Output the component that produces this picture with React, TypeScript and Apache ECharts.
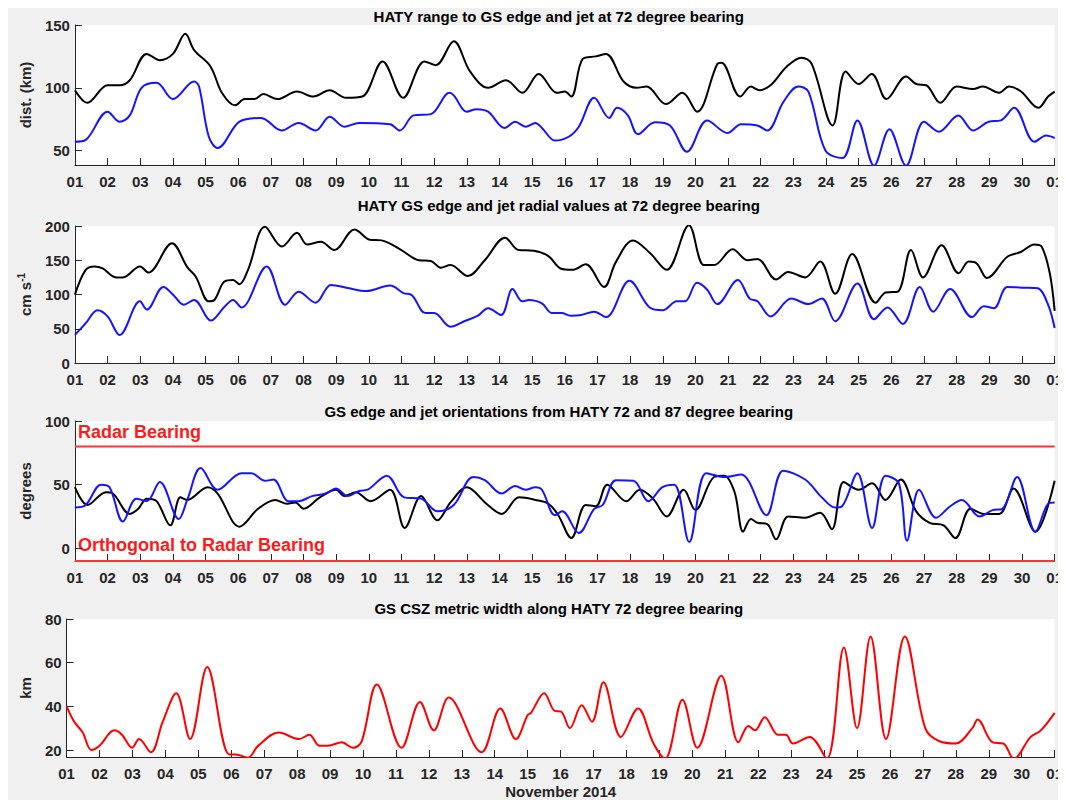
import React, { useEffect, useRef } from "react";
import * as echarts from "echarts";

const DAY_LABELS = ["01","02","03","04","05","06","07","08","09","10","11","12","13","14","15","16","17","18","19","20","21","22","23","24","25","26","27","28","29","30","01"];

const TITLES = [
  "HATY range to GS edge and jet at 72 degree bearing",
  "HATY GS edge and jet radial values at 72 degree bearing",
  "GS edge and jet orientations from HATY 72 and 87 degree bearing",
  "GS CSZ metric width along HATY 72 degree bearing",
];

// Panel 1: range (km) — [day offset from Nov 01, value]
const rangeEdge = [[0,98],[0.38,88],[1,102],[1.37,102],[1.68,106],[2.2,127],[2.6,122],[3,127],[3.38,143],[3.65,130],[4.15,117],[4.5,96],[4.9,86],[5.2,91],[5.5,91],[5.77,95],[6.2,91],[6.8,97],[7.3,93],[7.8,98],[8.3,92],[8.8,93],[9.42,121],[10.05,92],[10.7,121],[11.05,118],[11.6,137],[12.1,113],[12.65,100],[13.2,106],[13.7,96],[14.2,111],[14.76,96],[15,97],[15.2,93],[15.55,123],[15.95,125],[16.26,127],[16.8,105],[17.2,100],[17.5,101],[18.1,87],[18.6,96],[19.05,81],[19.67,119],[19.8,120],[20.37,93],[20.7,101],[20.96,98],[21.3,102],[21.8,117],[22.25,124],[22.56,119],[23.2,70],[23.6,113],[24,103],[24.4,111],[24.85,91],[25.45,109],[25.76,103],[26.07,102],[26.5,88],[27,101],[27.5,99],[27.8,101],[28.3,96],[28.6,101],[28.97,97],[29.5,84],[29.8,93],[30,97]];
const rangeJet = [[0,57],[0.33,58.5],[1,81],[1.37,73],[1.68,78],[2.04,100],[2.5,104],[3,91],[3.65,105],[3.8,101],[4.1,61],[4.37,52],[5.04,73],[5.7,76],[6.33,66],[6.85,72],[7.37,66],[7.8,77],[8.25,69],[8.7,72],[9.65,71],[9.95,66],[10.37,78],[10.9,79],[11.47,96],[11.6,94],[12,81],[12.3,83],[12.65,81],[13.16,68],[13.48,73],[13.8,69],[14.1,72],[14.3,68],[14.7,58],[15.12,61],[15.43,69],[15.9,92],[16.36,76],[16.6,84],[16.93,78],[17.24,63],[17.76,72.5],[18.22,70],[18.74,49],[19.36,74],[19.98,64],[20.4,71],[20.9,70],[21.2,66],[21.7,89],[22.15,101],[22.46,97],[22.98,50],[23.5,44],[23.96,74],[24.47,38],[24.94,67],[25.45,38],[26,73],[26.45,65],[27.05,78],[27.5,66],[27.98,73],[28.35,74],[28.76,84],[29.38,57],[29.74,62],[30,60]];

// Panel 2: radial velocity (cm/s)
const radialEdge = [[0,100],[0.33,136],[0.6,141],[0.85,138],[1.26,125],[1.47,125],[1.99,141],[2.25,132],[2.97,175],[3.44,140],[3.7,126],[4.1,90],[4.27,92],[4.58,119],[4.84,121],[5.04,115],[5.3,136],[5.82,199],[6.34,170],[6.8,190],[7.11,173],[7.53,177],[7.94,165],[8.56,195],[9.03,180],[9.39,179],[9.96,166],[10.53,150],[10.9,149],[11.2,139],[11.5,143],[12.03,127],[12.55,150],[13.17,183],[13.58,165],[14.05,164],[14.5,156],[14.87,138],[15.23,136],[15.64,144],[16.2,111],[16.57,148],[17.09,179],[17.6,161],[18.12,136],[18.8,201],[19.26,143],[19.57,143],[20.14,166],[20.6,150],[20.9,152],[21.47,122],[21.84,133],[22.36,125],[22.82,148],[23.28,101],[23.8,159],[24.52,88],[24.83,103],[25.19,104],[25.6,165],[25.97,125],[26.54,172],[27.06,131],[27.37,148],[27.62,145],[27.93,124],[28.55,155],[28.96,162],[29.38,173],[29.6,170],[29.85,131],[30,76]];
const radialJet = [[0,41],[0.33,58],[0.69,77],[1,68],[1.37,41],[1.99,90],[2.2,78],[2.71,111],[3.02,99],[3.33,85],[3.65,92],[4.16,62],[4.58,82],[4.84,92],[5.1,81],[5.87,141],[6.44,85],[6.85,104],[7.37,88],[7.84,114],[8.4,109],[8.92,105],[9.65,113],[10.06,102],[10.32,99],[10.73,73],[11,73],[11.5,53],[11.92,61],[12.34,69],[12.65,80],[13.05,70],[13.4,108],[13.7,90],[13.9,92],[14.3,87],[14.6,73],[14.9,73],[15.18,69],[15.5,70],[15.9,75],[16.26,67],[16.98,120],[17.6,81],[18,77],[18.43,90],[18.68,90],[19.05,117],[19.36,107],[19.67,86],[20.3,121],[20.66,94],[20.9,90],[21.3,68],[21.94,94],[22.46,86],[22.87,94],[23.28,61],[23.96,116],[24.47,64],[24.88,81],[25.35,57],[25.87,111],[26.28,75],[26.8,108],[27.47,67],[27.83,83],[28.14,80],[28.55,111],[29.07,110],[29.48,109],[29.8,85],[30,51]];

// Panel 3: orientation (degrees)
const orientEdge = [[0,48],[0.38,34],[0.95,44],[1.16,43],[1.68,27],[1.94,31],[2.2,39],[2.5,37],[2.92,18],[3.23,40],[3.44,38],[4.06,48],[4.37,43],[5.04,17],[5.61,31],[6.13,38],[6.5,35],[6.75,36],[7,31],[7.5,40],[8,46],[8.25,41],[8.6,44],[9.05,37],[9.65,46],[10.1,16],[10.6,41],[11.1,22],[11.5,36],[12,48],[12.6,35],[13.07,27],[13.6,40],[14.1,38],[14.5,35],[14.8,26],[15.2,8],[15.64,34],[15.95,33],[16.3,50],[16.88,37],[17.3,46],[17.7,39],[18.12,25],[18.64,46],[19,30],[19.57,56],[19.88,57],[20.2,44],[20.46,13],[20.7,23],[20.9,20],[21.2,19],[21.47,7],[21.84,25],[22.36,24],[22.82,28],[23.18,15],[23.54,52],[24,46],[24.41,51],[24.82,38],[25.29,54],[25.76,29],[26.17,20],[26.6,18],[26.96,8],[27.42,31],[27.83,27],[28.3,27],[28.74,47],[29.41,13],[30,53]];
const orientJet = [[0,32],[0.33,34],[0.8,50],[1.06,48],[1.47,21],[1.88,39],[2.2,37],[2.6,52],[3.18,23],[3.44,38],[3.85,63],[4.37,46],[5.1,59],[5.4,59],[5.82,53],[6.08,54],[6.54,37],[6.85,37],[7.26,41],[7.68,43],[7.99,47],[8.35,41],[8.7,45],[8.96,46],[9.55,57],[10.08,40],[10.6,39],[11.1,29],[11.6,34],[12.2,56],[12.55,53.5],[13.07,43],[13.48,49],[13.8,46],[14.1,48],[14.3,46],[14.7,26],[14.92,29],[15.43,12],[15.9,31],[16.16,34],[16.57,53.5],[17.1,53],[17.56,37],[17.99,48],[18.35,50],[18.81,5],[19.33,59],[19.9,56],[20.4,58],[21.17,26],[21.69,61],[22.36,54],[22.87,40],[23.28,32],[23.49,33],[23.96,59],[24.41,16],[24.82,57],[25.23,51],[25.48,6],[25.85,46],[26.37,24],[26.8,33],[27.16,38],[27.7,25],[28.1,30],[28.4,31],[28.85,56],[29.41,13],[29.8,35],[30,36]];
const RADAR_BEARING = 80;
const ORTHOGONAL = -10;

// Panel 4: CSZ width (km)
const cszWidth = [[0,40],[0.23,33],[0.49,28],[0.75,20],[1,22],[1.45,29],[1.68,27],[1.99,21],[2.2,25],[2.56,19],[2.92,33],[3.33,46],[3.75,25],[4.27,58],[4.94,18],[5.14,18],[5.5,16.5],[5.82,22],[6.44,28],[7.06,25],[7.37,27],[7.68,22],[7.94,22],[8.35,23.5],[8.7,21],[8.96,24],[9.42,50],[10.17,21],[10.73,42],[11.15,29],[11.6,44],[12.6,19],[13.17,39],[13.64,25],[14,36],[14.1,37],[14.5,46],[14.81,38],[15.02,37.5],[15.28,30],[15.64,40.5],[15.95,33],[16.3,51],[16.83,26],[17.35,39],[17.82,23],[18.17,16],[18.7,43],[19.15,21],[19.88,54],[20.4,23.5],[20.7,31],[20.9,29],[21.2,35],[21.6,27],[21.84,27],[22.05,23],[22.56,26],[23.08,16],[23.6,67],[24,30],[24.41,72],[24.88,25],[25.45,72],[26.07,30],[26.5,24],[27,23],[27.5,30],[27.66,34],[28.12,23.5],[28.44,23],[28.76,16],[29.27,26],[29.58,29],[30,37]];

const Y_TICKS = [[50, 100, 150], [0, 50, 100, 150, 200], [0, 50, 100], [20, 40, 60, 80]];
const Y_RANGES = [[38.5, 150], [0, 200], [-10, 100], [16.8, 80]];

const FONT = "'Liberation Sans', Arial, Helvetica, sans-serif";
const AXIS_COLOR = "#262626";

export default function App() {
  const ref = useRef<HTMLDivElement>(null);
  useEffect(() => {
    document.documentElement.style.overflow = "hidden";
    document.body.style.overflow = "hidden";
    const chart = echarts.init(ref.current!, null, { renderer: "svg" });
    const gridLeft = 52;
    const gridRight = 8.5;
    const gridDefs = [
      { top: 17, height: 140 },
      { top: 218, height: 137 },
      { top: 413, height: 140 },
      { top: 611, height: 139 },
    ];
    const titleTops = [0, 189, 395, 592];
    const nameGaps = [36, 35, 36, 29];
    const yNames = ["dist. (km)", "cm s{sup|-1}", "degrees", "km"];
    const centerX = gridLeft + (1058 - gridLeft - gridRight) / 2;

    const grid = gridDefs.map((g) => ({
      left: gridLeft,
      right: gridRight,
      top: g.top,
      height: g.height,
      show: true,
      backgroundColor: "#ffffff",
      borderWidth: 0,
    }));

    const xAxis = gridDefs.map((_, i) => ({
      type: "value",
      gridIndex: i,
      min: 0,
      max: 30,
      interval: 1,
      axisLine: { show: true, onZero: false, lineStyle: { color: AXIS_COLOR, width: 1 } },
      axisTick: { show: true, inside: true, length: 7, lineStyle: { color: AXIS_COLOR } },
      axisLabel: {
        formatter: (v: number) => DAY_LABELS[Math.round(v)],
        color: AXIS_COLOR,
        fontWeight: "bold",
        fontSize: 15,
        fontFamily: FONT,
        margin: 9,
      },
      splitLine: { show: false },
      ...(i === 3
        ? {
            name: "November 2014",
            nameLocation: "middle",
            nameGap: 27,
            nameTextStyle: { color: AXIS_COLOR, fontWeight: "bold", fontSize: 15, fontFamily: FONT },
          }
        : {}),
    }));

    const yAxis = gridDefs.map((_, i) => ({
      type: "value",
      gridIndex: i,
      min: Y_RANGES[i][0],
      max: Y_RANGES[i][1],
      axisLine: { show: true, onZero: false, lineStyle: { color: AXIS_COLOR, width: 1 } },
      axisTick: { show: true, inside: true, length: 7, customValues: Y_TICKS[i], lineStyle: { color: AXIS_COLOR } },
      axisLabel: {
        customValues: Y_TICKS[i],
        color: AXIS_COLOR,
        fontWeight: "bold",
        fontSize: 15,
        fontFamily: FONT,
        margin: 5,
      },
      splitLine: { show: false },
      name: yNames[i],
      nameLocation: "middle",
      nameGap: nameGaps[i],
      nameTextStyle: {
        color: AXIS_COLOR,
        fontWeight: "bold",
        fontSize: 15,
        fontFamily: FONT,
        lineHeight: 18,
        rich: {
          sup: { fontSize: 10, fontWeight: "bold", fontFamily: FONT, color: AXIS_COLOR, verticalAlign: "top", lineHeight: 18 },
        },
      },
    }));

    const line = (data: number[][], idx: number, color: string, z = 2) => ({
      type: "line",
      xAxisIndex: idx,
      yAxisIndex: idx,
      data,
      smooth: 0.35,
      showSymbol: false,
      symbol: "none",
      clip: true,
      z,
      lineStyle: { color, width: 2 },
      itemStyle: { color },
    });

    const flat = (v: number) => [[0, v], [30, v]];

    const option = {
      animation: false,
      backgroundColor: "#f0f0f0",
      title: TITLES.map((t, i) => ({
        text: t,
        left: centerX,
        top: titleTops[i],
        textAlign: "center",
        padding: 0,
        textStyle: { color: "#000", fontWeight: "bold", fontSize: 15, fontFamily: FONT, lineHeight: 17 },
      })),
      grid,
      xAxis,
      yAxis,
      series: [
        line(rangeEdge, 0, "#000000"),
        line(rangeJet, 0, "#1414ff"),
        line(radialEdge, 1, "#000000"),
        line(radialJet, 1, "#1414ff"),
        line(orientEdge, 2, "#000000"),
        line(orientJet, 2, "#1414ff"),
        { ...line(flat(RADAR_BEARING), 2, "#ff3333", 5), smooth: false, clip: false },
        { ...line(flat(ORTHOGONAL), 2, "#ff3333", 5), smooth: false, clip: false },
        line(cszWidth, 3, "#ff0000"),
      ],
      graphic: [
        {
          type: "text",
          left: 70,
          top: 415,
          style: { text: "Radar Bearing", fill: "#ff1a1a", font: `bold 18px ${FONT}` },
        },
        {
          type: "text",
          left: 70,
          top: 528,
          style: { text: "Orthogonal to Radar Bearing", fill: "#ff1a1a", font: `bold 18px ${FONT}` },
        },
      ],
    };
    chart.setOption(option as any);
    return () => chart.dispose();
  }, []);
  return <div ref={ref} style={{ width: 1058, height: 792 }} />;
}
